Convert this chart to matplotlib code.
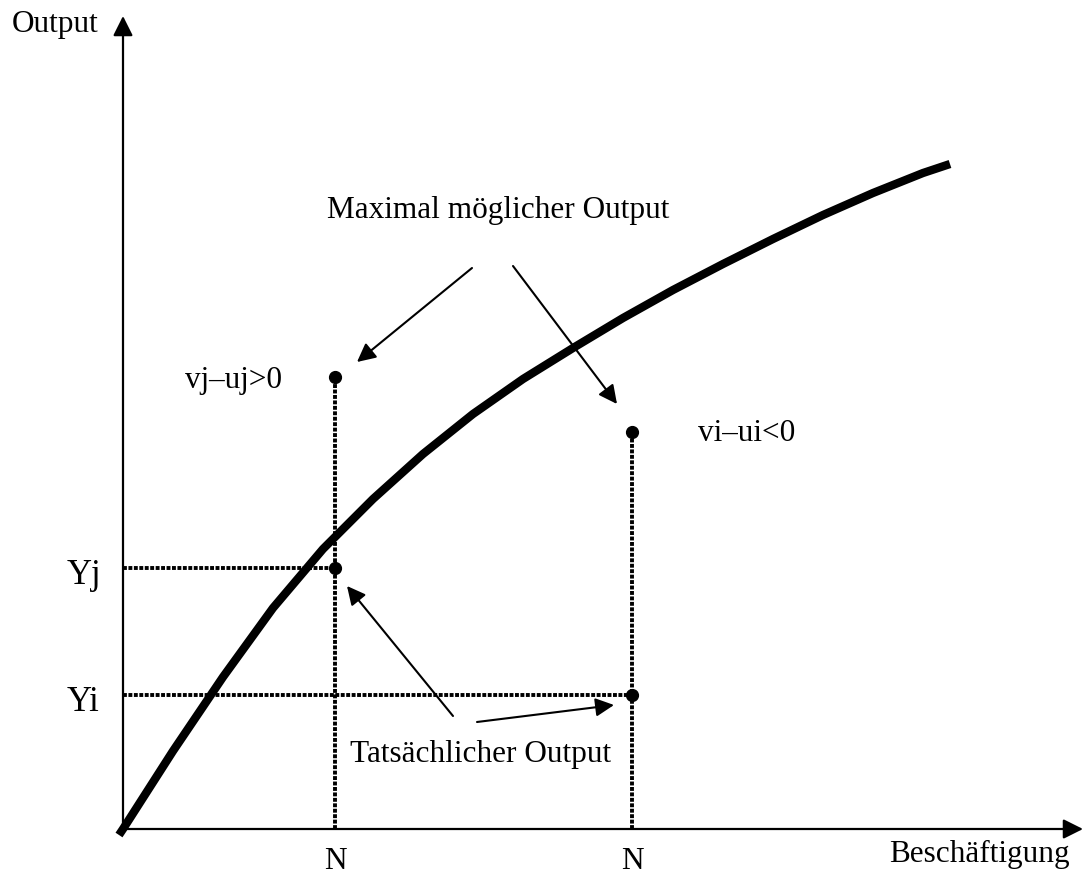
import numpy as np
import matplotlib.pyplot as plt

plt.rcParams['font.family'] = ['Liberation Serif', 'DejaVu Serif']

# production function (origin at the axes crossing)
kurve_x = [-4, 0, 50, 100, 150, 200, 250, 300, 350, 400, 450, 500, 550,
           600, 650, 700, 750, 800, 827]
kurve_y = [-6, 0, 78, 152, 221, 280, 330, 375, 415, 450, 481, 511, 539,
           565, 590, 614, 636, 656, 665]

# the two observations: employment N, actual output Y, maximal output
beob_n = [212, 509]
beob_y_ist = [261, 134]
beob_y_max = [452, 397]
y_labels = ['Yj', 'Yi']


def pfeil(ax, start, ziel, lw=1.5, ms=28):
    ax.annotate('', xy=ziel, xytext=start,
                arrowprops=dict(arrowstyle='-|>', color='black', lw=lw,
                                mutation_scale=ms, shrinkA=0, shrinkB=0))


fig = plt.figure(figsize=(10.85, 8.78), dpi=100)
ax = fig.add_axes([0, 0, 1, 1])
ax.set_xlim(-123, 962)
ax.set_ylim(-48, 830)
ax.axis('off')

# axes with arrows
pfeil(ax, (0, 0), (960, 0), lw=1.6, ms=30)
pfeil(ax, (0, 0), (0, 813), lw=1.6, ms=30)

# dotted guide lines
gepunktet = dict(color='black', lw=2.8, linestyle=(0, (1, 0.4)))
for n, yi, ym in zip(beob_n, beob_y_ist, beob_y_max):
    ax.plot([n, n], [0, ym], **gepunktet)
    ax.plot([0, n], [yi, yi], **gepunktet)
ax.plot(beob_n, beob_y_ist, 'o', color='black', ms=8.5)
ax.plot(beob_n, beob_y_max, 'o', color='black', ms=8.5)

# curve
ax.plot(kurve_x, kurve_y, color='black', lw=6, solid_capstyle='butt',
        solid_joinstyle='round')

fs = 22.5
ax.text(-111, 798, 'Output', fontsize=fs, va='baseline', ha='left')
ax.text(947, -32, 'Beschäftigung', fontsize=fs, va='baseline', ha='right')
for n in beob_n:
    ax.text(n, -39, 'N', fontsize=fs, va='baseline', ha='center')
for lab, yi in zip(y_labels, beob_y_ist):
    ax.text(-56, yi - 15, lab, fontsize=25, va='baseline', ha='left')

ax.text(204, 612, 'Maximal möglicher Output', fontsize=fs, va='baseline', ha='left')
ax.text(62, 442, 'vj–uj>0', fontsize=fs, va='baseline', ha='left')
ax.text(575, 389, 'vi–ui<0', fontsize=fs, va='baseline', ha='left')
ax.text(227, 68, 'Tatsächlicher Output', fontsize=fs, va='baseline', ha='left')

# annotation arrows
pfeil(ax, (349, 561), (234, 467))
pfeil(ax, (390, 563), (494, 425))
pfeil(ax, (330, 113), (224, 243))
pfeil(ax, (354, 107), (491, 124))

fig.savefig('out.png', dpi=100)
